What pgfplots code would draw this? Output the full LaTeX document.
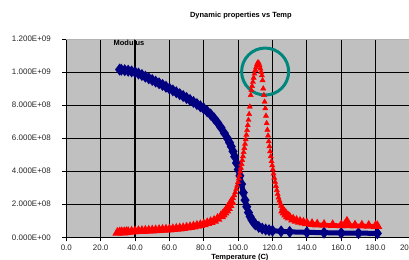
\documentclass[border=0pt]{standalone}
\usepackage{fontspec}
\setmainfont{Liberation Sans}
\usepackage{pgfplots}
\pgfplotsset{compat=1.18}
\usepackage{pgfplotstable}
\definecolor{plotbg}{RGB}{192,192,192}
\definecolor{navyblue}{RGB}{0,0,128}
\definecolor{circteal}{RGB}{0,135,125}

\pgfplotstableread{
T v
31 1.015
32 1.014
34 1.011
36 1.008
38 1.004
40 1.000
42 0.991
44 0.982
46 0.972
48 0.962
50 0.952
52 0.942
54 0.932
56 0.922
58 0.911
60 0.900
62 0.889
64 0.878
66 0.866
68 0.855
70 0.843
72 0.831
74 0.819
76 0.806
78 0.793
80 0.779
82 0.762
84 0.743
86 0.720
88 0.694
90 0.664
92 0.630
94 0.595
95 0.573
96 0.549
97 0.520
98 0.488
99 0.450
100 0.410
101 0.372
102 0.322
103 0.270
104 0.225
105 0.185
106 0.150
107 0.125
108 0.105
109 0.090
110 0.078
112 0.063
114 0.053
116 0.047
118 0.043
120 0.040
125 0.036
130 0.033
140 0.030
150 0.028
160 0.026
170 0.025
181 0.024
}\bluetab

\pgfplotstableread{
T v
29.7 0.028
31 0.030
32 0.031
33 0.029
34 0.031
35 0.032
36 0.033
38 0.035
40 0.037
42 0.038
44 0.039
46 0.040
48 0.041
50 0.042
52 0.043
54 0.045
56 0.046
58 0.047
60 0.048
62 0.050
64 0.052
66 0.054
68 0.056
70 0.059
72 0.062
74 0.066
76 0.070
78 0.074
80 0.079
82 0.086
84 0.093
86 0.100
88 0.112
90 0.128
91 0.138
92 0.150
93 0.163
94 0.178
95 0.195
96 0.214
}\redA

\pgfplotstableread{
T v
97.0 0.236
97.7 0.254
98.3 0.272
98.9 0.292
99.4 0.312
99.9 0.333
100.4 0.355
100.8 0.376
101.2 0.398
101.6 0.420
102.0 0.443
102.4 0.466
102.8 0.490
103.2 0.515
103.6 0.540
104.0 0.565
104.4 0.592
104.8 0.620
105.2 0.648
105.6 0.678
106.0 0.710
106.4 0.745
106.8 0.790
107.3 0.860
107.7 0.890
108.1 0.915
108.6 0.940
109.0 0.965
109.5 0.990
110.0 1.012
110.5 1.030
111.0 1.048
111.5 1.058
112.0 1.055
112.5 1.040
113.0 1.020
113.4 1.000
113.8 0.980
114.2 0.950
114.6 0.900
115.0 0.860
115.4 0.820
115.8 0.780
116.2 0.735
116.6 0.690
117.0 0.650
117.4 0.615
117.8 0.580
118.2 0.550
118.6 0.520
119.0 0.490
119.4 0.460
119.8 0.435
120.2 0.410
120.6 0.385
121.0 0.360
121.5 0.335
122.0 0.310
122.5 0.285
123.0 0.262
123.5 0.240
124.0 0.222
124.5 0.205
125.0 0.190
125.6 0.175
}\redB

\pgfplotstableread{
T v
126.2 0.162
127 0.150
128 0.138
129 0.128
130 0.120
132 0.108
134 0.100
136 0.094
138 0.089
140 0.085
143 0.081
146 0.078
150 0.076
155 0.074
160 0.073
162 0.074
163.3 0.095
164.5 0.073
168 0.072
172 0.071
176 0.070
180 0.069
181 0.068
}\redC

\begin{document}
\begin{tikzpicture}
\useasboundingbox (-66.3bp,-22.7bp) rectangle (342.7bp,237.3bp);
\begin{axis}[
  at={(0,0)}, anchor=south west,
  scale only axis, width=343.7bp, height=198.3bp,
  xmin=0, xmax=200, ymin=0, ymax=1.2,
  axis background/.style={fill=plotbg},
  xtick={0,20,40,60,80,100,120,140,160,180,200},
  xticklabels={0.0,20.0,40.0,60.0,80.0,100.0,120.0,140.0,160.0,180.0,200.0},
  ytick={0,0.2,0.4,0.6,0.8,1.0},
  yticklabels={0.000E+00,2.000E+08,4.000E+08,6.000E+08,8.000E+08,1.000E+09},
  extra y ticks={1.2}, extra y tick labels={1.200E+09},
  extra y tick style={grid=none},
  grid=major,
  x grid style={black, line width=1.2bp},
  y grid style={black, line width=1bp},
  axis x line*=bottom, axis y line*=left,
  axis line style={black, line width=1.1bp, -},
  tick align=outside, major tick length=4bp,
  tick style={black, line width=0.8bp},
  ticklabel style={font=\fontsize{8}{9}\selectfont, text=black!85},
  yticklabel style={xshift=-8bp},
  clip=false,
]
\draw[gray!60, line width=0.8bp] (rel axis cs:0,1) -- (rel axis cs:1,1);
\addplot[navyblue, line width=5bp, mark=diamond*, mark size=1.9bp] table {\bluetab};
\addplot[red, line width=3.8bp, mark=triangle*, mark size=2bp] table {\redA};
\addplot[red, only marks, mark=triangle*, mark size=3bp] table {\redB};
\addplot[red, line width=3.8bp, mark=triangle*, mark size=2bp] table {\redC};
\draw[circteal, line width=3bp] (axis cs:115.7,1.003) circle[radius=23.5bp];
\node[font=\bfseries\fontsize{7.5}{9}\selectfont] at (axis cs:101.6,1.343) {Dynamic properties vs Temp};
\node[font=\bfseries\fontsize{7.5}{9}\selectfont] at (axis cs:36.5,1.174) {Modulus};
\node[font=\bfseries\fontsize{7.5}{9}\selectfont] at (axis cs:101,-0.125) {Temperature (C)};
\end{axis}
\end{tikzpicture}
\end{document}
